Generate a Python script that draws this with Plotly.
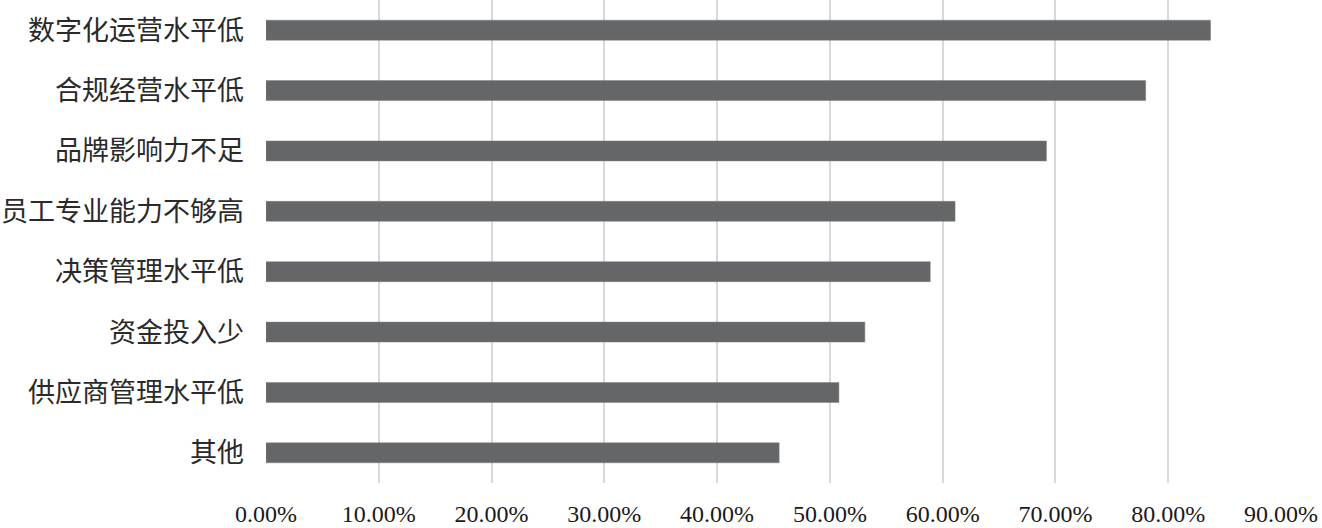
import plotly.graph_objects as go

categories = ["数字化运营水平低", "合规经营水平低", "品牌影响力不足", "员工专业能力不够高",
              "决策管理水平低", "资金投入少", "供应商管理水平低", "其他"]
values = [0.8375, 0.780, 0.692, 0.611, 0.589, 0.531, 0.508, 0.455]
tick_vals = [0.0, 0.1, 0.2, 0.3, 0.4, 0.5, 0.6, 0.7, 0.8, 0.9]
tick_text = ["0.00%", "10.00%", "20.00%", "30.00%", "40.00%", "50.00%",
             "60.00%", "70.00%", "80.00%", "90.00%"]

fig = go.Figure(go.Bar(
    x=values, y=categories, orientation="h",
    marker=dict(color="#646668", line=dict(color="#7a7c7e", width=0.5)),
))

fig.update_layout(
    width=1322, height=528,
    margin=dict(l=266, r=41, t=0, b=45),
    paper_bgcolor="white", plot_bgcolor="white",
    bargap=0.67,
    showlegend=False,
)
fig.update_xaxes(
    range=[0, 0.9], tickvals=tick_vals, ticktext=tick_text,
    showgrid=True, gridcolor="#d9d9d9", gridwidth=2,
    zeroline=False, showline=False, automargin=False,
    tickfont=dict(family="Liberation Serif", size=24, color="#1a1a1a"),
    ticklabelstandoff=14,
)
fig.update_yaxes(
    categoryorder="array", categoryarray=categories[::-1],
    showgrid=False, zeroline=False, showline=False, automargin=False,
    tickfont=dict(family="Noto Sans CJK SC", size=27, color="#2a2a2a"),
    ticklabelstandoff=21,
)

fig.write_html("out.html",
               config={"displayModeBar": False},
               post_script="document.body.style.margin='0px';document.body.style.overflow='hidden';")
